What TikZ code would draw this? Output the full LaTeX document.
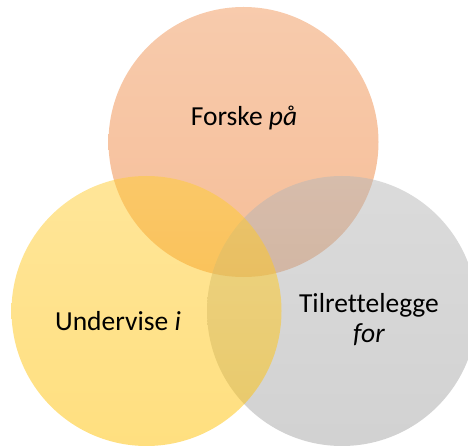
\documentclass[tikz,border=0pt]{standalone}
\usepackage{fontspec}
\setmainfont{Carlito}[Ligatures=NoCommon]
\definecolor{vorange}{HTML}{ED7D31}
\definecolor{vyellow}{HTML}{FFC000}
\definecolor{vgray}{HTML}{A5A5A5}
\begin{document}
\begin{tikzpicture}[x=1pt,y=-1pt,
  venn/.style={circle,minimum size=270pt,inner sep=0pt,fill opacity=0.5},
  lbl/.style={font=\fontsize{27.5}{30}\selectfont,align=center,text=black}]
\useasboundingbox (0,0) rectangle (468,446);
\clip (0,0) rectangle (468,446);
\node[venn,top color=vorange!80!white,bottom color=vorange] (forske) at (243.5,142) {};
\node[venn,top color=vgray!80!white,bottom color=vgray] (tilrette) at (342,311) {};
\node[venn,top color=vyellow!80!white,bottom color=vyellow] (undervise) at (146.5,311) {};
\node[lbl] (t1) at (244,118) {Forske \textit{på}};
\node[lbl] (t2) at (118,321) {Undervise \textit{i}};
\node[lbl] (t3) at (369,320) {Tilrettelegge\\\textit{for}};
\end{tikzpicture}
\end{document}
